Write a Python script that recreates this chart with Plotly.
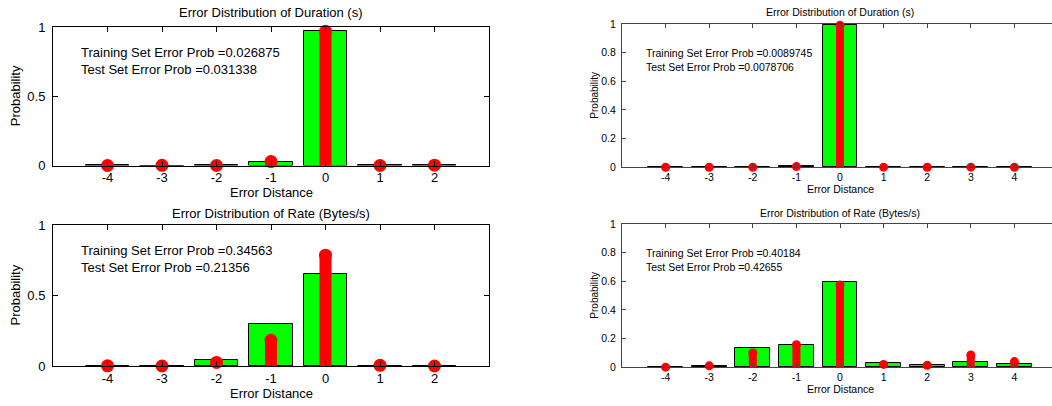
import plotly.graph_objects as go

# ---------------- data ----------------
x_left = [-4, -3, -2, -1, 0, 1, 2]
x_right = [-4, -3, -2, -1, 0, 1, 2, 3, 4]

dur_train_left = [0.0006, 0.0, 0.0006, 0.025, 0.973, 0.0006, 0.0006]
dur_test_left = [0.0, 0.001, 0.0, 0.028, 0.969, 0.0, 0.002]
rate_train_left = [0.002, 0.0, 0.04, 0.301, 0.654, 0.003, 0.0]
rate_test_left = [0.001, 0.0, 0.025, 0.182, 0.786, 0.005, 0.0]

dur_train_right = [0.0, 0.0006, 0.0006, 0.006, 0.991, 0.0006, 0.0006, 0.0006, 0.0]
dur_test_right = [0.0, 0.0005, 0.0003, 0.005, 0.992, 0.001, 0.0005, 0.001, 0.0]
rate_train_right = [0.001, 0.011, 0.135, 0.153, 0.598, 0.028, 0.016, 0.035, 0.022]
rate_test_right = [0.001, 0.01, 0.10, 0.158, 0.574, 0.02, 0.014, 0.086, 0.04]

titles = ["Error Distribution of Duration (s)", "Error Distribution of Rate (Bytes/s)",
          "Error Distribution of Duration (s)", "Error Distribution of Rate (Bytes/s)"]
train_probs = ["0.026875", "0.34563", "0.0089745", "0.40184"]
test_probs = ["0.031338", "0.21356", "0.0078706", "0.42655"]

yticks_left = [0, 0.5, 1]
yticklabels_left = ["0", "0.5", "1"]
yticks_right = [0, 0.2, 0.4, 0.6, 0.8, 1]
yticklabels_right = ["0", "0.2", "0.4", "0.6", "0.8", "1"]

# ---------------- layout geometry ----------------
W, H = 1052, 406
FONT = "Liberation Sans, Arial, sans-serif"

panels = [
    dict(xs=x_left, tr=dur_train_left, te=dur_test_left, xpx=(53, 489), ypx=(27, 165.5),
         xr=[-5, 3], yt=yticks_left, yl=yticklabels_left, fs=13, lw=12, ms=13, ac="#000000"),
    dict(xs=x_left, tr=rate_train_left, te=rate_test_left, xpx=(53, 489), ypx=(225, 366),
         xr=[-5, 3], yt=yticks_left, yl=yticklabels_left, fs=13, lw=12, ms=13, ac="#000000"),
    dict(xs=x_right, tr=dur_train_right, te=dur_test_right, xpx=(622, 1052), ypx=(24, 167.3),
         xr=[-5, -5 + (1052 - 622) / 43.6], yt=yticks_right, yl=yticklabels_right, fs=10.5, lw=8, ms=9, ac="#444444"),
    dict(xs=x_right, tr=rate_train_right, te=rate_test_right, xpx=(622, 1052), ypx=(224, 367.3),
         xr=[-5, -5 + (1052 - 622) / 43.6], yt=yticks_right, yl=yticklabels_right, fs=10.5, lw=8, ms=9, ac="#444444"),
]

fig = go.Figure()
annotations = []
layout_axes = {}

for i, p in enumerate(panels):
    n = "" if i == 0 else str(i + 1)
    xa, ya = "x" + n, "y" + n
    fig.add_trace(go.Bar(x=p["xs"], y=p["tr"], width=0.8, xaxis=xa, yaxis=ya,
                         marker=dict(color="#00FF00", line=dict(color="#000000", width=1)),
                         showlegend=False))
    sx, sy = [], []
    for xv, yv in zip(p["xs"], p["te"]):
        sx += [xv, xv, None]
        sy += [0, yv, None]
    fig.add_trace(go.Scatter(x=sx, y=sy, mode="lines", xaxis=xa, yaxis=ya,
                             line=dict(color="#FF0000", width=p["lw"]), showlegend=False,
                             cliponaxis=False))
    fig.add_trace(go.Scatter(x=p["xs"], y=p["te"], mode="markers", xaxis=xa, yaxis=ya,
                             marker=dict(color="#FF0000", size=p["ms"], line=dict(width=0)),
                             showlegend=False, cliponaxis=False))

    x0, x1 = p["xpx"]
    yt, yb = p["ypx"]
    right_panel = i >= 2
    layout_axes["xaxis" + n] = dict(
        domain=[x0 / W, x1 / W], anchor=ya, range=p["xr"], tickvals=p["xs"],
        ticktext=[str(v) for v in p["xs"]], ticks="inside", ticklen=5 if not right_panel else 4,
        tickcolor=p["ac"], showline=True, linecolor=p["ac"], linewidth=1, mirror="ticks",
        showgrid=False, zeroline=False, tickfont=dict(family=FONT, size=p["fs"], color="#000"),
        ticklabelstandoff=0, fixedrange=True, automargin=False)
    layout_axes["yaxis" + n] = dict(
        domain=[1 - yb / H, 1 - yt / H], anchor=xa, range=[0, 1], tickvals=p["yt"],
        ticktext=p["yl"], ticks="inside", ticklen=5 if not right_panel else 4,
        tickcolor=p["ac"], showline=True, linecolor=p["ac"], linewidth=1,
        mirror=False if right_panel else "ticks",
        showgrid=False, zeroline=False, tickfont=dict(family=FONT, size=p["fs"], color="#000"),
        ticklabelstandoff=4 if not right_panel else 3, fixedrange=True, automargin=False)

    cx = (x0 + 489) / 2 if not right_panel else 840
    ty = 12.5 if i % 2 == 0 else 213
    annotations.append(dict(text=titles[i], x=cx / W, y=1 - ty / H, xref="paper", yref="paper",
                            xanchor="center", yanchor="middle", showarrow=False,
                            font=dict(family=FONT, size=p["fs"], color="#000")))
    xly = (193 if i % 2 == 0 else 393) if not right_panel else (189 if i % 2 == 0 else 389)
    annotations.append(dict(text="Error Distance", x=cx / W, y=1 - xly / H, xref="paper", yref="paper",
                            xanchor="center", yanchor="middle", showarrow=False,
                            font=dict(family=FONT, size=p["fs"], color="#000")))
    ylx = 15 if not right_panel else 595
    annotations.append(dict(text="Probability", x=ylx / W, y=1 - ((yt + yb) / 2) / H, xref="paper",
                            yref="paper", xanchor="center", yanchor="middle", textangle=-90,
                            showarrow=False,
                            font=dict(family=FONT, size=p["fs"] if not right_panel else 10, color="#000")))
    tx = 79 if not right_panel else 644
    l1 = yt + (26 if not right_panel else 28.7)
    annotations.append(dict(text="Training Set Error Prob =" + train_probs[i] + "<br>Test Set Error Prob =" + test_probs[i],
                            x=tx / W, y=1 - (l1 + (7.5 if not right_panel else 7)) / H, xref="paper", yref="paper",
                            xanchor="left", yanchor="middle", align="left", showarrow=False,
                            font=dict(family=FONT, size=p["fs"], color="#000")))

fig.update_layout(width=W, height=H, margin=dict(l=0, r=0, t=0, b=0, pad=0, autoexpand=False),
                  plot_bgcolor="white", paper_bgcolor="white", bargap=0,
                  annotations=annotations, **layout_axes)

fig.write_html("out.html")
